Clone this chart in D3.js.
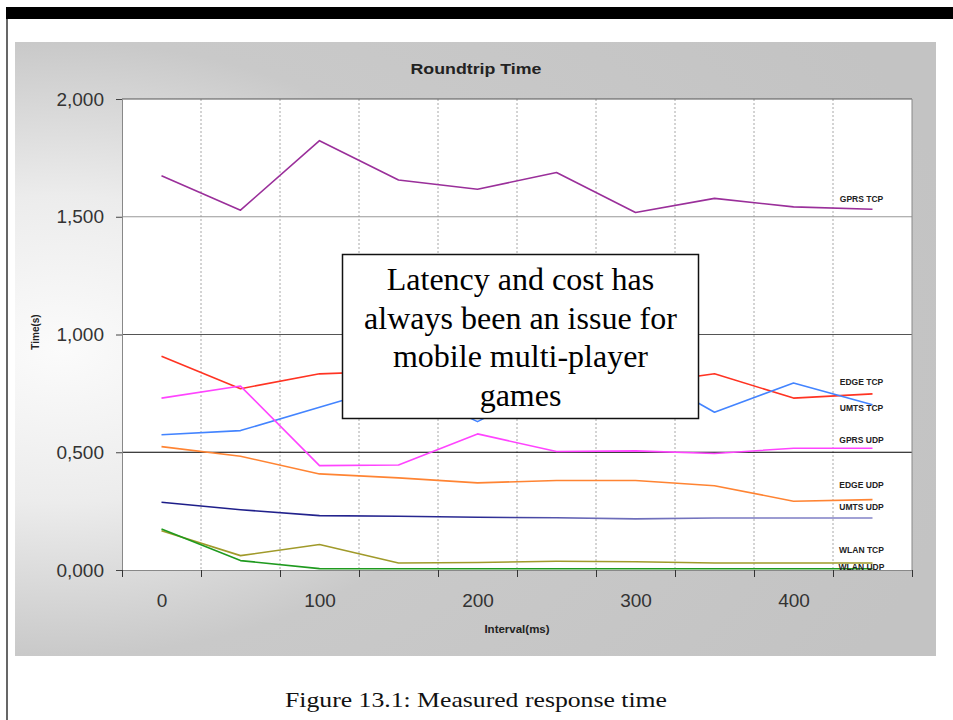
<!DOCTYPE html>
<html>
<head>
<meta charset="utf-8">
<script src="https://cdn.jsdelivr.net/npm/d3@7"></script>
<style>
  body { margin: 0; background: #fff; }
  svg { display: block; }
</style>
</head>
<body>
<div id="chart"></div>
<script>
// 数据（单位：秒）
const intervals = [0, 50, 100, 150, 200, 250, 300, 350, 400, 450];
const gprsTcp = [1.674, 1.528, 1.823, 1.656, 1.617, 1.688, 1.518, 1.578, 1.542, 1.532];
const edgeTcp = [0.908, 0.770, 0.833, 0.845, 0.820, 0.800, 0.786, 0.833, 0.730, 0.748];
const umtsTcp = [0.574, 0.592, 0.691, 0.790, 0.630, 0.800, 0.860, 0.670, 0.794, 0.702];
const gprsUdp = [0.730, 0.781, 0.443, 0.446, 0.578, 0.503, 0.506, 0.495, 0.517, 0.517];
const edgeUdp = [0.524, 0.483, 0.408, 0.391, 0.370, 0.380, 0.380, 0.358, 0.292, 0.299];
const umtsUdp = [0.288, 0.256, 0.231, 0.228, 0.224, 0.222, 0.217, 0.221, 0.221, 0.221];
const wlanTcp = [0.167, 0.061, 0.108, 0.030, 0.032, 0.037, 0.035, 0.030, 0.030, 0.030];
const wlanUdp = [0.174, 0.040, 0.006, 0.005, 0.005, 0.005, 0.005, 0.005, 0.005, 0.005];

const seriesNames = ["GPRS TCP", "EDGE TCP", "UMTS TCP", "GPRS UDP", "EDGE UDP", "UMTS UDP", "WLAN TCP", "WLAN UDP"];
const seriesValues = [gprsTcp, edgeTcp, umtsTcp, gprsUdp, edgeUdp, umtsUdp, wlanTcp, wlanUdp];

const xTickValues = [0, 100, 200, 300, 400];
const yTickValues = [0, 0.5, 1, 1.5, 2];

const chartTitle = "Roundtrip Time";
const xTitle = "Interval(ms)";
const yTitle = "Time(s)";
const noteLines = ["Latency and cost has", "always been an issue for", "mobile multi-player", "games"];
const caption = "Figure 13.1: Measured response time";

// 样式
const colors = ["#9a2f9a", "#ff3322", "#4384ff", "#ff44ff", "#ff8433", "url(#umtsUdpGrad)", "#a09a2a", "#1f9a1f"];
const labelDy = [-10, -12, 3, -8, -15, -11, -13, -2];

const width = 953, height = 720;
const plot = { left: 122, right: 912, top: 99, bottom: 570 };

const svg = d3.select("#chart").append("svg")
    .attr("width", width)
    .attr("height", height);

const defs = svg.append("defs");
const bg = defs.append("radialGradient")
    .attr("id", "panelGrad")
    .attr("cx", 0.05).attr("cy", 0.5).attr("r", 1)
    .attr("fx", 0.05).attr("fy", 0.5);
bg.append("stop").attr("offset", 0).attr("stop-color", "#fbfbfb");
bg.append("stop").attr("offset", 0.25).attr("stop-color", "#ececec");
bg.append("stop").attr("offset", 0.5).attr("stop-color", "#c9c9c9");
bg.append("stop").attr("offset", 1).attr("stop-color", "#c3c3c3");

const x = d3.scaleLinear().domain([-25, 475]).range([plot.left, plot.right]);
const y = d3.scaleLinear().domain([0, 2]).range([plot.bottom, plot.top]);

const ug = defs.append("linearGradient")
    .attr("id", "umtsUdpGrad")
    .attr("gradientUnits", "userSpaceOnUse")
    .attr("x1", x(0)).attr("x2", x(450)).attr("y1", 0).attr("y2", 0);
ug.append("stop").attr("offset", 0).attr("stop-color", "#1c1c88");
ug.append("stop").attr("offset", 0.45).attr("stop-color", "#2a2a92");
ug.append("stop").attr("offset", 0.6).attr("stop-color", "#6a6ab8");
ug.append("stop").attr("offset", 1).attr("stop-color", "#8484c8");

// 页面装饰
svg.append("rect").attr("x", 6).attr("y", 7).attr("width", width - 6).attr("height", 12).attr("fill", "#000");
svg.append("line").attr("x1", 7).attr("x2", 7).attr("y1", 19).attr("y2", height)
    .attr("stroke", "#000").attr("stroke-width", 1.2);

// 图表背景
svg.append("rect")
    .attr("x", 15).attr("y", 42).attr("width", 921).attr("height", 614)
    .attr("fill", "url(#panelGrad)");

svg.append("rect")
    .attr("x", plot.left).attr("y", plot.top)
    .attr("width", plot.right - plot.left).attr("height", plot.bottom - plot.top)
    .attr("fill", "#fff");

// 垂直虚线网格
const bounds = intervals.map(d => d - 25).concat([475]);
svg.append("g")
    .selectAll("line")
    .data(bounds.slice(1, -1))
    .join("line")
    .attr("x1", d => x(d)).attr("x2", d => x(d))
    .attr("y1", plot.top).attr("y2", plot.bottom)
    .attr("stroke", "#a8a8a8")
    .attr("stroke-dasharray", "2,2");

// 水平网格
const gridColor = { 0.5: "#000", 1: "#555", 1.5: "#999", 2: "#555" };
svg.append("g")
    .selectAll("line")
    .data(yTickValues.filter(d => d > 0))
    .join("line")
    .attr("x1", plot.left).attr("x2", plot.right)
    .attr("y1", d => y(d)).attr("y2", d => y(d))
    .attr("stroke", d => gridColor[d])
    .attr("stroke-width", 1.2);

svg.append("line")
    .attr("x1", plot.right).attr("x2", plot.right)
    .attr("y1", plot.top).attr("y2", plot.bottom)
    .attr("stroke", "#888");

// 坐标轴
const locale = d3.formatLocale({ decimal: ",", thousands: ".", grouping: [3], currency: ["", ""] });
const yFmt = locale.format(".3f");

svg.append("g")
    .attr("transform", `translate(${plot.left},0)`)
    .call(d3.axisLeft(y).tickValues(yTickValues).tickSize(6).tickPadding(12).tickFormat(yFmt))
    .call(g => g.select(".domain").attr("stroke", "#888"))
    .call(g => g.selectAll(".tick line").attr("stroke", "#444"))
    .call(g => g.selectAll(".tick text")
        .attr("fill", "#333")
        .attr("font-family", "'Liberation Sans', Arial, sans-serif")
        .attr("font-size", 19));

svg.append("g")
    .attr("transform", `translate(0,${plot.bottom})`)
    .call(d3.axisBottom(x).tickValues(bounds).tickSize(7).tickSizeOuter(0).tickFormat(""))
    .call(g => g.select(".domain").attr("stroke", "#888"))
    .call(g => g.selectAll(".tick line").attr("stroke", "#333"));

svg.append("g")
    .attr("transform", `translate(0,${plot.bottom})`)
    .call(d3.axisBottom(x).tickValues(xTickValues).tickSize(0).tickPadding(24))
    .call(g => g.select(".domain").remove())
    .call(g => g.selectAll(".tick text")
        .attr("fill", "#333")
        .attr("font-family", "'Liberation Sans', Arial, sans-serif")
        .attr("font-size", 19));

// 折线
const line = d3.line()
    .x((d, i) => x(intervals[i]))
    .y(d => y(d));

svg.append("g")
    .selectAll("path")
    .data(seriesValues)
    .join("path")
    .attr("fill", "none")
    .attr("stroke", (d, i) => colors[i])
    .attr("stroke-width", 1.6)
    .attr("stroke-linejoin", "round")
    .attr("d", line);

// 系列标签
svg.append("g")
    .selectAll("text")
    .data(seriesNames)
    .join("text")
    .attr("x", x(450) - 11)
    .attr("y", (d, i) => y(seriesValues[i][seriesValues[i].length - 1]) + labelDy[i])
    .attr("dy", "0.35em")
    .attr("text-anchor", "middle")
    .attr("font-family", "'Liberation Sans', Arial, sans-serif")
    .attr("font-weight", "bold")
    .attr("font-size", 8.5)
    .attr("fill", "#222")
    .text(d => d);

// 标题
svg.append("text")
    .attr("x", 476).attr("y", 74)
    .attr("text-anchor", "middle")
    .attr("font-family", "'Liberation Sans', Arial, sans-serif")
    .attr("font-weight", "bold")
    .attr("font-size", 15)
    .attr("textLength", 131)
    .attr("lengthAdjust", "spacingAndGlyphs")
    .attr("fill", "#222")
    .text(chartTitle);

svg.append("text")
    .attr("x", 517).attr("y", 633)
    .attr("text-anchor", "middle")
    .attr("font-family", "'Liberation Sans', Arial, sans-serif")
    .attr("font-weight", "bold")
    .attr("font-size", 11.5)
    .attr("fill", "#222")
    .text(xTitle);

svg.append("text")
    .attr("transform", "translate(35,332) rotate(-90)")
    .attr("text-anchor", "middle")
    .attr("dy", "0.35em")
    .attr("font-family", "'Liberation Sans', Arial, sans-serif")
    .attr("font-weight", "bold")
    .attr("font-size", 10)
    .attr("fill", "#222")
    .text(yTitle);

// 注释框
const note = svg.append("g");
note.append("rect")
    .attr("x", 342.5).attr("y", 254.5).attr("width", 356).attr("height", 164)
    .attr("fill", "#fff")
    .attr("stroke", "#111")
    .attr("stroke-width", 1.5);
note.selectAll("text")
    .data(noteLines)
    .join("text")
    .attr("x", 520.5)
    .attr("y", (d, i) => 290 + i * 38.5)
    .attr("text-anchor", "middle")
    .attr("font-family", "'Liberation Serif', 'Times New Roman', serif")
    .attr("font-size", 32)
    .attr("fill", "#000")
    .text(d => d);

// 图注
svg.append("text")
    .attr("x", 476).attr("y", 707)
    .attr("text-anchor", "middle")
    .attr("font-family", "'Liberation Serif', 'Times New Roman', serif")
    .attr("font-size", 21)
    .attr("textLength", 382)
    .attr("lengthAdjust", "spacingAndGlyphs")
    .attr("fill", "#111")
    .text(caption);
</script>
</body>
</html>
